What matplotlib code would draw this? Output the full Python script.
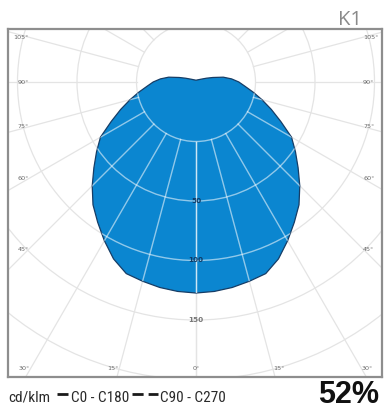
import numpy as np
import matplotlib
matplotlib.use("Agg")
import matplotlib.pyplot as plt
from matplotlib.lines import Line2D
from matplotlib.patches import Polygon, Circle
from matplotlib import font_manager

# ---------------- data ----------------
gamma_deg = [0, 5, 10, 15, 20, 25, 30, 35, 40, 45, 50, 55, 60, 65, 70, 75, 80, 85,
             90, 95, 100, 105, 110, 120, 135, 150, 165, 180]
intensity = [133, 132.5, 131.5, 130, 128.5, 123, 115.5, 108, 101, 92.5, 84, 76.5, 69.5,
             59, 50.5, 43, 36.5, 31, 27, 22.5, 17.5, 11, 7, 3.5, 2, 1.5, 1.2, 1.2]
ring_values = [37.5, 75, 112.5, 150, 187.5, 225]
ring_labels = ["", "50", "100", "150", "", ""]
side_angles = [45, 60, 75, 90, 105]
bottom_angles = [30, 15, 0]
radial_angles = list(range(0, 181, 15))
unit_label = "cd/klm"
legend_solid = "C0 - C180"
legend_dashed = "C90 - C270"
efficiency = "52%"
chart_id = "K1"

names = {f.name for f in font_manager.fontManager.ttflist}
cond = [n for n in ("Roboto Condensed", "Liberation Sans Narrow", "Open Sans Condensed")
        if n in names]
narrow = (cond[:1] or ["Roboto"]) + ["DejaVu Sans"]

# ---------------- layout ----------------
W, H = 387, 412
fig = plt.figure(figsize=(W / 100, H / 100), dpi=100)
fig.patch.set_facecolor("white")

ppu = 238 / 150.0          # pixels per cd/klm
cx, cy = 196, 82           # pole position in pixels
bx0, by0, bx1, by1 = 8, 29, 382, 377

ax = fig.add_axes([bx0 / W, (H - by1) / H, (bx1 - bx0) / W, (by1 - by0) / H])
ax.set_xlim((bx0 - cx) / ppu, (bx1 - cx) / ppu)
ax.set_ylim(-(by1 - cy) / ppu, (cy - by0) / ppu)
ax.set_xticks([])
ax.set_yticks([])
for s in ax.spines.values():
    s.set_color("#8e8e8e")
    s.set_linewidth(1.6)


def pol(r, g_deg, side=1):
    g = np.radians(g_deg)
    return side * r * np.sin(g), -r * np.cos(g)


grid_col = "#e4e4e4"

# grid below blob
for rv in ring_values:
    ax.add_patch(Circle((0, 0), rv, fill=False, ec=grid_col, lw=0.9, zorder=1))
for a in radial_angles:
    for side in (1, -1):
        x0, y0 = pol(ring_values[0], a, side)
        x1, y1 = pol(400, a, side)
        ax.add_line(Line2D([x0, x1], [y0, y1], color=grid_col, lw=0.9, zorder=1))

# blob
g = np.array(gamma_deg, dtype=float)
r = np.array(intensity, dtype=float)
xr, yr = pol(r, g, 1)
xl, yl = pol(r[::-1], g[::-1], -1)
pts = np.column_stack([np.concatenate([xr, xl]), np.concatenate([yr, yl])])
blob = Polygon(pts, closed=True, fc="#0b86d0", ec="#163d66", lw=0.9, zorder=2,
               joinstyle="round")
ax.add_patch(blob)

# grid over blob (light lines clipped to blob)
for rv in ring_values:
    c = Circle((0, 0), rv, fill=False, ec="white", lw=1.0, alpha=0.55, zorder=3)
    ax.add_patch(c)
    c.set_clip_path(blob)
for a in radial_angles:
    for side in (1, -1):
        x0, y0 = pol(ring_values[0], a, side)
        x1, y1 = pol(400, a, side)
        ln = Line2D([x0, x1], [y0, y1], color="white", lw=1.0, alpha=0.55, zorder=3)
        ax.add_line(ln)
        ln.set_clip_path(blob)

# ring labels along 0 deg
for rv, lab in zip(ring_values, ring_labels):
    if not lab:
        continue
    inside = rv < intensity[0]
    ax.text(0, -rv, lab, ha="center", va="center", fontsize=5.2,
            color="#0d3a66" if inside else "#777777",
            fontweight="bold", zorder=4)

# angle labels
lab_kw = dict(fontsize=4.6, color="#6a6a6a", zorder=4)
xin_l = (29 - cx) / ppu
xin_r = (363 - cx) / ppu
for a in side_angles:
    t = np.tan(np.radians(a))
    yv = -abs(xin_l) / t if a != 90 else 0.0
    ax.text(xin_l, yv, f"{a}°", ha="right", va="center", **lab_kw)
    yv = -abs(xin_r) / t if a != 90 else 0.0
    ax.text(xin_r, yv, f"{a}°", ha="left", va="center", **lab_kw)
ybot = -(369 - cy) / ppu
for a in bottom_angles:
    xv = abs(ybot) * np.tan(np.radians(a))
    if a == 0:
        ax.text(0, ybot, f"{a}°", ha="center", va="center", **lab_kw)
    else:
        ax.text(-xv, ybot, f"{a}°", ha="right", va="center", **lab_kw)
        ax.text(xv, ybot, f"{a}°", ha="left", va="center", **lab_kw)

# ---------------- texts outside ----------------
fig.text(362 / W, (H - 25) / H, chart_id, ha="right", va="baseline",
         fontsize=14.5, color="#8a8a8a", family=["Open Sans", "DejaVu Sans"])

renderer = fig.canvas.get_renderer()
base_y = (H - 402) / H
ly = (H - 394) / H
fs = 11
tkw = dict(ha="left", va="baseline", fontsize=fs, color="#2a2a2a", family=narrow)

x = 8
t = fig.text(x / W, base_y, unit_label, **tkw)
x = t.get_window_extent(renderer).x1 + 7
fig.add_artist(Line2D([x / W, (x + 11) / W], [ly, ly], color="#1a1a1a", lw=2.0,
                      solid_capstyle="butt", transform=fig.transFigure))
x += 14
t = fig.text(x / W, base_y, legend_solid, **tkw)
x = t.get_window_extent(renderer).x1 + 3
fig.add_artist(Line2D([x / W, (x + 26) / W], [ly, ly], color="#1a1a1a", lw=2.0,
                      dashes=(4.0, 1.8), dash_capstyle="butt",
                      transform=fig.transFigure))
x += 28
fig.text(x / W, base_y, legend_dashed, **tkw)

fig.text(379 / W, (H - 403) / H, efficiency, ha="right", va="baseline", fontsize=22,
         fontweight="bold", color="#111111", family=["Liberation Sans", "DejaVu Sans"])

fig.savefig("out.png", dpi=100, facecolor="white")
